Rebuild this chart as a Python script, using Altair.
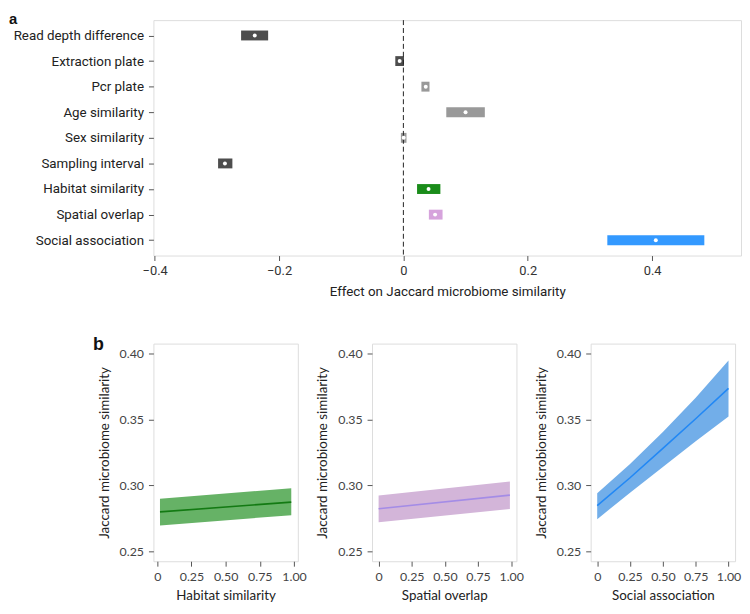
import altair as alt
import pandas as pd

# ---------------- Panel a data ----------------
terms = ["Read depth difference", "Extraction plate", "Pcr plate", "Age similarity",
         "Sex similarity", "Sampling interval", "Habitat similarity", "Spatial overlap",
         "Social association"]
effect_est = [-0.239, -0.006, 0.036, 0.100, 0.0005, -0.287, 0.0405, 0.051, 0.406]
effect_lo = [-0.261, -0.013, 0.029, 0.069, -0.004, -0.298, 0.022, 0.041, 0.328]
effect_hi = [-0.2175, 0.001, 0.042, 0.131, 0.005, -0.275, 0.0595, 0.063, 0.484]
term_colors = ["#4d4d4d", "#4d4d4d", "#999999", "#999999", "#999999", "#4d4d4d",
               "#1a8c1a", "#d6a3dc", "#3399ff"]
x_ticks_a = [-0.4, -0.2, 0, 0.2, 0.4]

# ---------------- Panel b data ----------------
hab_x = [0.02, 0.98]
hab_fit = [0.2799, 0.2873]
hab_lo = [0.2696, 0.2774]
hab_hi = [0.2899, 0.2978]

spa_x = [0.0, 0.99]
spa_fit = [0.2823, 0.2926]
spa_lo = [0.2720, 0.2821]
spa_hi = [0.2924, 0.3029]

soc_x = [0.0, 0.25, 0.5, 0.75, 1.0]
soc_fit = [0.2847, 0.3058, 0.3281, 0.3505, 0.3736]
soc_lo = [0.2744, 0.2945, 0.3140, 0.3334, 0.3523]
soc_hi = [0.2941, 0.3163, 0.3405, 0.3664, 0.3946]

y_ticks_b = [0.25, 0.30, 0.35, 0.40]
x_ticks_b = [0, 0.25, 0.5, 0.75, 1.0]

FONT_A = "Roboto"
FONT_B = "Lato"

# ---------------- Panel a ----------------
df_a = pd.DataFrame({"term": terms, "est": effect_est, "lo": effect_lo, "hi": effect_hi})
yscale_a = alt.Scale(type="point", domain=terms, padding=0.6)
xscale_a = alt.Scale(domain=[-0.402, 0.543], nice=False, zero=False)

ax_y_a = alt.Axis(title=None, labelFont=FONT_A, labelFontSize=13.5, labelColor="#222",
                  tickSize=5, tickColor="#555", labelPadding=5, domain=False, grid=False)
ax_x_a = alt.Axis(values=x_ticks_a,
                  labelExpr="datum.value == 0 ? '0' : format(datum.value, '.1f')",
                  title="Effect on Jaccard microbiome similarity", titleFont=FONT_A,
                  titleFontSize=13.5, titleFontWeight="normal", titleColor="#222",
                  labelFont=FONT_A, labelFontSize=13, labelColor="#333",
                  tickSize=5, tickColor="#555", labelPadding=4, titlePadding=7,
                  domain=False, grid=False)

base_a = alt.Chart(df_a)
bars = base_a.mark_rule(strokeWidth=10, strokeCap="butt").encode(
    y=alt.Y("term:N", scale=yscale_a, axis=ax_y_a, sort=terms),
    x=alt.X("lo:Q", scale=xscale_a, axis=ax_x_a),
    x2="hi:Q",
    color=alt.Color("term:N", scale=alt.Scale(domain=terms, range=term_colors), legend=None),
)
dots = base_a.mark_point(filled=True, color="white", size=16, opacity=1).encode(
    y=alt.Y("term:N", scale=yscale_a, sort=terms, axis=ax_y_a),
    x=alt.X("est:Q", scale=xscale_a, axis=ax_x_a),
)
zero_line = alt.Chart(pd.DataFrame({"z": [0.0]})).mark_rule(
    color="#222", strokeWidth=1, strokeDash=[5, 3]).encode(
    x=alt.X("z:Q", scale=xscale_a, axis=ax_x_a))
label_a = alt.Chart(pd.DataFrame({"t": ["a"]})).mark_text(
    font="Liberation Sans", fontWeight="bold", fontSize=15, align="left", baseline="top",
    color="#111").encode(text="t:N", x=alt.value(-146), y=alt.value(-8))

panel_a = alt.layer(bars, zero_line, dots, label_a).properties(width=594, height=238)

# ---------------- Panel b ----------------
yscale_b = alt.Scale(domain=[0.2425, 0.4075], nice=False, zero=False)


def make_panel(xs, fit, lo, hi, xdomain, xtitle, ribbon, line, tag=None):
    df = pd.DataFrame({"x": xs, "fit": fit, "lo": lo, "hi": hi})
    xscale = alt.Scale(domain=xdomain, nice=False, zero=False)
    ax_x = alt.Axis(values=x_ticks_b,
                    labelExpr="datum.value == 0 ? '0' : format(datum.value, '.2f')",
                    title=xtitle, titleFont=FONT_B, titleFontSize=13.5,
                    titleFontWeight="normal", titleColor="#222",
                    labelFont=FONT_B, labelFontSize=12.5, labelColor="#444",
                    labelOverlap=False, labelBound=False,
                    tickSize=5, tickColor="#555", labelPadding=4, titlePadding=6,
                    domain=False, grid=False)
    ax_y = alt.Axis(values=y_ticks_b, format=".2f",
                    title="Jaccard microbiome similarity", titleFont=FONT_B,
                    titleFontSize=13.5, titleFontWeight="normal", titleColor="#222",
                    labelFont=FONT_B, labelFontSize=12.5, labelColor="#444",
                    labelOverlap=False,
                    tickSize=5, tickColor="#555", labelPadding=5, titlePadding=8,
                    domain=False, grid=False)
    area = alt.Chart(df).mark_area(color=ribbon, opacity=1).encode(
        x=alt.X("x:Q", scale=xscale, axis=ax_x),
        y=alt.Y("lo:Q", scale=yscale_b, axis=ax_y),
        y2="hi:Q",
    )
    ln = alt.Chart(df).mark_line(color=line, strokeWidth=1.6).encode(
        x=alt.X("x:Q", scale=xscale, axis=ax_x),
        y=alt.Y("fit:Q", scale=yscale_b, axis=ax_y),
    )
    layers = [area, ln]
    if tag:
        layers.append(alt.Chart(pd.DataFrame({"t": [tag]})).mark_text(
            font="Liberation Sans", fontWeight="bold", fontSize=18, align="left",
            baseline="top", color="#111").encode(text="t:N", x=alt.value(-61), y=alt.value(-8)))
    return alt.layer(*layers).properties(width=146, height=220)


p1 = make_panel(hab_x, hab_fit, hab_lo, hab_hi, [-0.028, 1.028], "Habitat similarity",
                "#66b266", "#137a13", tag="b")
p2 = make_panel(spa_x, spa_fit, spa_lo, spa_hi, [-0.0495, 1.0395], "Spatial overlap",
                "#d3b5d9", "#a48ce6")
p3 = make_panel(soc_x, soc_fit, soc_lo, soc_hi, [-0.05, 1.05], "Social association",
                "#72aee9", "#2288f5")

panel_b = alt.hconcat(p1, p2, p3, spacing=75, bounds="flush")

chart = alt.vconcat(panel_a, panel_b, spacing=37).properties(
    padding={"left": 0, "top": 0, "right": 0, "bottom": 0}
).configure_view(stroke="#9a9a9a", strokeWidth=1).configure_axis(
    labelOverlap=False).configure(background="white")

chart.save("out.html", embed_options={"renderer": "svg", "actions": False})
